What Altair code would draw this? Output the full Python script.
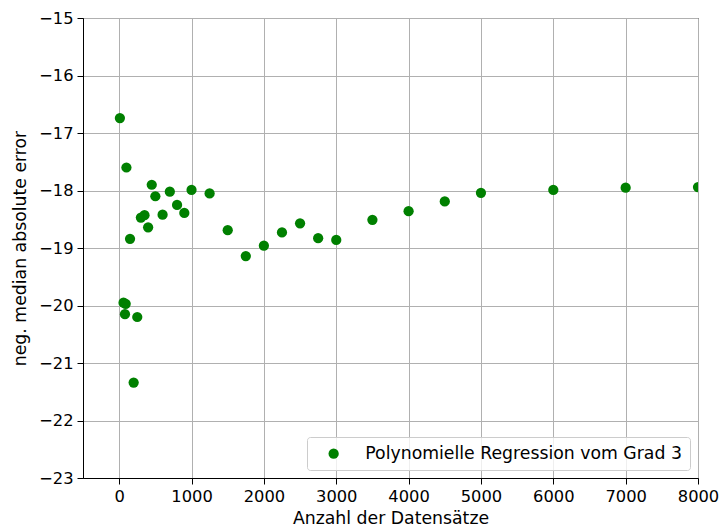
import altair as alt
import pandas as pd

sizes = [10, 60, 80, 90, 100, 150, 200, 250, 300, 350, 400, 450, 500, 600, 700,
         800, 900, 1000, 1250, 1500, 1750, 2000, 2250, 2500, 2750, 3000, 3500,
         4000, 4500, 5000, 6000, 7000, 8000]
scores = [-16.74, -19.95, -20.15, -19.97, -17.60, -18.84, -21.34, -20.20, -18.47,
          -18.43, -18.64, -17.90, -18.10, -18.42, -18.02, -18.25, -18.39, -17.99,
          -18.05, -18.69, -19.14, -18.96, -18.73, -18.57, -18.83, -18.86, -18.51,
          -18.36, -18.19, -18.04, -17.99, -17.95, -17.94]
series_name = "Polynomielle Regression vom Grad 3"
x_ticks = [0, 1000, 2000, 3000, 4000, 5000, 6000, 7000, 8000]
y_ticks = [-23, -22, -21, -20, -19, -18, -17, -16, -15]

df = pd.DataFrame({"n": sizes, "score": scores, "series": [series_name] * len(sizes)})

font = "DejaVu Sans"

chart = (
    alt.Chart(df)
    .mark_circle(size=105, opacity=1, clip=True)
    .encode(
        x=alt.X("n:Q", title="Anzahl der Datensätze",
                scale=alt.Scale(domain=[-500, 8000], nice=False, zero=False),
                axis=alt.Axis(values=x_ticks, format="d", labelFlush=False)),
        y=alt.Y("score:Q", title="neg. median absolute error",
                scale=alt.Scale(domain=[-23, -15], nice=False, zero=False),
                axis=alt.Axis(values=y_ticks, format="d", labelFlush=False)),
        color=alt.Color("series:N", scale=alt.Scale(range=["#008000"]),
                        legend=alt.Legend(title=None, orient="bottom-right", offset=8,
                                          padding=8, symbolOffset=10,
                                          symbolSize=105, symbolType="circle",
                                          labelFontSize=17.3, labelFont=font,
                                          labelOffset=23, labelLimit=500,
                                          labelColor="black",
                                          fillColor="rgba(255,255,255,0.8)",
                                          strokeColor="#cccccc",
                                          cornerRadius=3)),
    )
    .properties(width=615, height=460,
                padding={"left": 83, "top": 18, "right": 23, "bottom": 51},
                autosize=alt.AutoSizeParams(type="none"))
    .configure_view(stroke="black", strokeWidth=1)
    .configure_axis(
        labelFont=font, titleFont=font, labelFontSize=16.3, titleFontSize=17.3,
        titleFontWeight="normal", labelColor="black", titleColor="black",
        domainColor="black", tickColor="black", tickSize=6, labelPadding=4,
        grid=True, gridColor="#b0b0b0", gridWidth=1,
    )
    .configure_axisX(titlePadding=5)
    .configure_axisY(titlePadding=9)
)

chart.save("out.html", embed_options={"renderer": "svg", "actions": False})
